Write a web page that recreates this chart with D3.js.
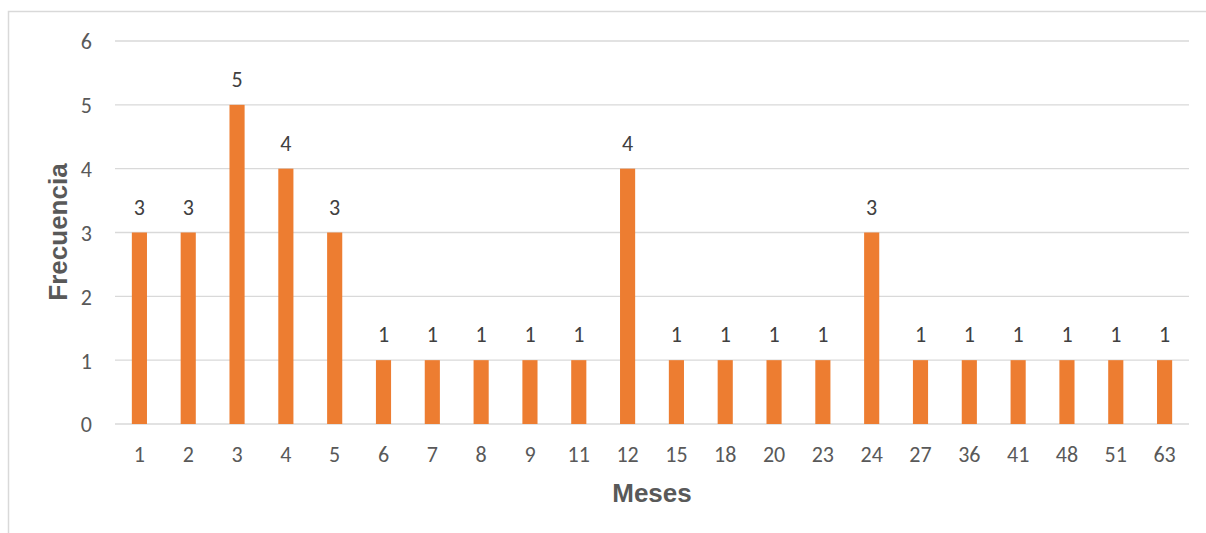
<!DOCTYPE html>
<html>
<head>
<meta charset="utf-8">
<script src="https://cdn.jsdelivr.net/npm/d3@7"></script>
<style>
  body { margin: 0; background: #fff; }
  text { font-family: Carlito, Calibri, "Open Sans", "Liberation Sans", sans-serif; }
  .title { font-family: "Liberation Sans", Arial, sans-serif; }
</style>
</head>
<body>
<div id="chart"></div>
<script>
var meses = ['1', '2', '3', '4', '5', '6', '7', '8', '9', '11', '12', '15', '18', '20', '23', '24', '27', '36', '41', '48', '51', '63'];
var frecuencia = [3, 3, 5, 4, 3, 1, 1, 1, 1, 1, 4, 1, 1, 1, 1, 3, 1, 1, 1, 1, 1, 1];
var yTicks = [0, 1, 2, 3, 4, 5, 6];

function drawChart() {
    var width = 1206, height = 533;
    var margin = { left: 115, right: 17, top: 41, bottom: 109 };

    var svg = d3.select('#chart')
        .append('svg')
        .attr('width', width)
        .attr('height', height);

    // outer chart border (only top and left visible in the crop)
    svg.append('path')
        .attr('d', 'M8.5,' + height + 'V11.5H' + width)
        .attr('fill', 'none')
        .attr('stroke', '#d9d9d9')
        .attr('stroke-width', 1.5);

    var x = d3.scaleBand()
        .domain(meses)
        .range([margin.left, width - margin.right])
        .paddingInner(0.69)
        .paddingOuter(0.345);

    var y = d3.scaleLinear()
        .domain([0, 6])
        .range([height - margin.bottom, margin.top]);

    // gridlines
    svg.append('g')
        .selectAll('line')
        .data(yTicks)
        .enter().append('line')
        .attr('x1', margin.left)
        .attr('x2', width - margin.right)
        .attr('y1', function(d) { return y(d); })
        .attr('y2', function(d) { return y(d); })
        .attr('stroke', '#d9d9d9')
        .attr('stroke-width', 1.3);

    // y axis
    var yAxis = svg.append('g')
        .attr('transform', 'translate(' + (margin.left - 23) + ',0)')
        .call(d3.axisLeft(y).tickValues(yTicks).tickFormat(d3.format('d')).tickSize(0).tickPadding(0));
    yAxis.select('.domain').remove();
    yAxis.selectAll('text')
        .attr('dy', '0.36em')
        .attr('fill', '#595959')
        .style('font-size', '22px');

    // x axis
    var xAxis = svg.append('g')
        .attr('transform', 'translate(0,' + (height - margin.bottom) + ')')
        .call(d3.axisBottom(x).tickSize(0));
    xAxis.select('.domain').remove();
    xAxis.selectAll('text')
        .attr('y', 38)
        .attr('dy', 0)
        .attr('fill', '#595959')
        .style('font-size', '22px');

    // bars
    svg.append('g')
        .selectAll('rect')
        .data(frecuencia)
        .enter().append('rect')
        .attr('x', function(d, i) { return x(meses[i]); })
        .attr('width', x.bandwidth())
        .attr('y', function(d) { return y(d); })
        .attr('height', function(d) { return y(0) - y(d); })
        .attr('fill', '#ed7d31');

    // data labels
    svg.append('g')
        .selectAll('text')
        .data(frecuencia)
        .enter().append('text')
        .attr('x', function(d, i) { return x(meses[i]) + x.bandwidth() / 2; })
        .attr('y', function(d) { return y(d) - 18; })
        .attr('text-anchor', 'middle')
        .attr('fill', '#404040')
        .style('font-size', '22px')
        .text(function(d) { return d; });

    // axis titles
    svg.append('text')
        .attr('class', 'title')
        .attr('x', 652)
        .attr('y', 502)
        .attr('text-anchor', 'middle')
        .attr('fill', '#595959')
        .style('font-size', '26px')
        .style('font-weight', 'bold')
        .text('Meses');

    svg.append('text')
        .attr('class', 'title')
        .attr('transform', 'translate(67,232) rotate(-90)')
        .attr('text-anchor', 'middle')
        .attr('fill', '#595959')
        .style('font-size', '26px')
        .style('font-weight', 'bold')
        .text('Frecuencia');
}

document.addEventListener('DOMContentLoaded', drawChart);
</script>
</body>
</html>
